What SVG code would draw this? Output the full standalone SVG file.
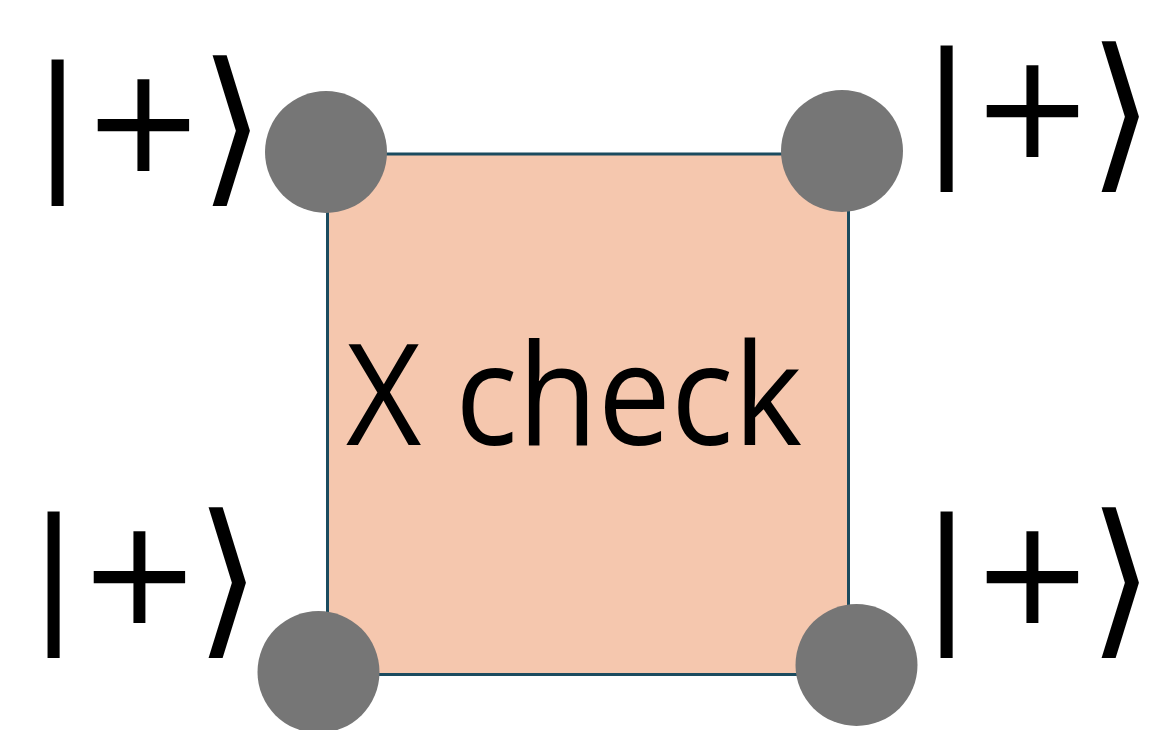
<svg xmlns="http://www.w3.org/2000/svg" width="1158" height="730" viewBox="0 0 1158 730">
<style>
.ket{font-family:"DejaVu Sans",sans-serif;font-size:146px;fill:#000}
.lbl{font-family:"Open Sans","Liberation Sans",sans-serif;font-size:141px;fill:#000}
.q{fill:#767676}
</style>
<defs>
<g id="ketplus">
<text class="ket" x="33" y="171">|+</text>
<text class="ket" x="0" y="0" transform="translate(199,183.5) scale(1.16)">⟩</text>
</g>
</defs>
<rect width="1158" height="730" fill="#fff"/>
<g id="plaquette">
<rect x="327.5" y="154" width="521" height="520.5" fill="#F5C7AE" stroke="#1B4B5F" stroke-width="3"/>
<text class="lbl" x="574" y="445" text-anchor="middle" textLength="456" lengthAdjust="spacingAndGlyphs">X check</text>
</g>
<g id="qubit-tl"><circle class="q" cx="326" cy="152" r="61"/><use href="#ketplus"/></g>
<g id="qubit-tr"><circle class="q" cx="842" cy="151" r="61"/><use href="#ketplus" transform="translate(889,-14)"/></g>
<g id="qubit-bl"><circle class="q" cx="318.5" cy="672" r="61"/><use href="#ketplus" transform="translate(-4,452)"/></g>
<g id="qubit-br"><circle class="q" cx="856.5" cy="665" r="61"/><use href="#ketplus" transform="translate(889,452)"/></g>
<g id="connectors"/>
</svg>
